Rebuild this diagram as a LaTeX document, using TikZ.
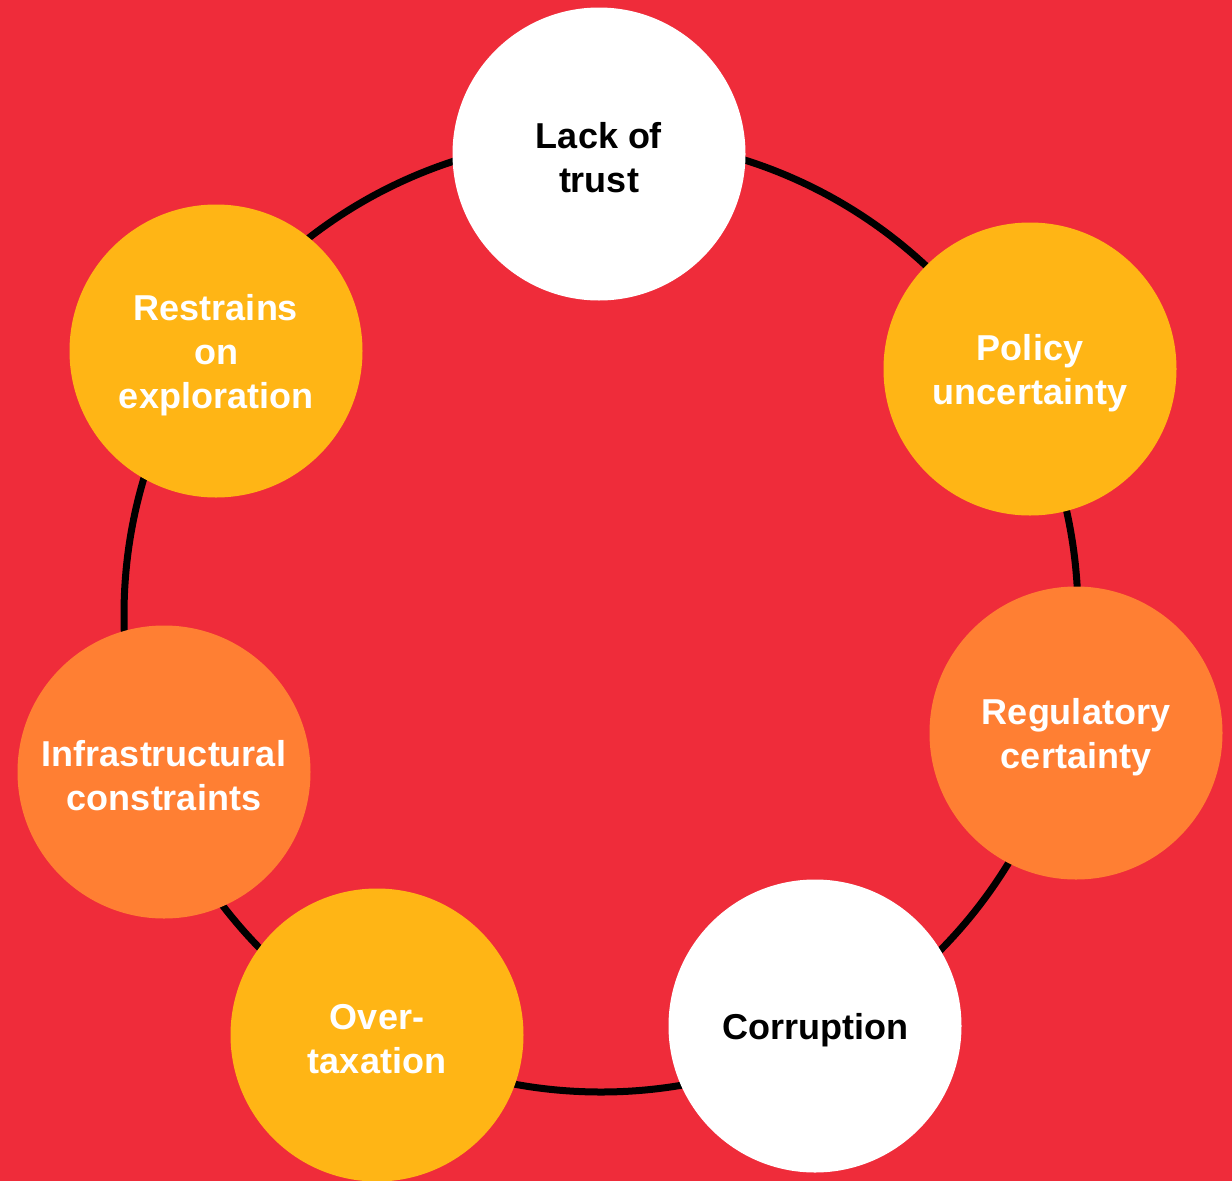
\documentclass[tikz,border=0pt]{standalone}
\usepackage{fontspec}
\setmainfont{Liberation Sans}
\definecolor{bgred}{RGB}{239,44,58}
\definecolor{sunyellow}{RGB}{255,181,21}
\definecolor{warmorange}{RGB}{255,127,51}
% a tall strut on the first line sets each text block a little lower
\newcommand{\topstrut}{\rule{0pt}{34pt}}
\begin{document}
\begin{tikzpicture}[x=1pt,y=-1pt,
  bubble/.style={circle,minimum size=293pt,inner sep=0pt,align=center,
    font=\fontsize{36}{44}\selectfont\bfseries},
  lightbubble/.style={bubble,fill=white,text=black},
  yellowbubble/.style={bubble,fill=sunyellow,text=white},
  orangebubble/.style={bubble,fill=warmorange,text=white},
  ring/.style={line width=7pt,draw=black}]
  \useasboundingbox (0,0) rectangle (1232,1181);
  \clip (0,0) rectangle (1232,1181);
  \fill[bgred] (0,0) rectangle (1232,1181);
  % the loop joining all the factors
  \coordinate (hub) at (601,615);
  \draw[ring] (hub) circle[radius=477pt];
  % factors around the loop
  \node[lightbubble]  (trust)  at (599,154)  {\topstrut Lack of\\trust};
  \node[yellowbubble] (policy) at (1030,369) {\topstrut Policy\\uncertainty};
  \node[orangebubble] (reg)    at (1076,733) {\topstrut Regulatory\\certainty};
  \node[lightbubble]  (corr)   at (815,1026) {\topstrut Corruption};
  \node[yellowbubble] (tax)    at (377,1035) {\topstrut Over-\\taxation};
  \node[orangebubble] (infra)  at (164,772)  {\topstrut Infrastructural\\constraints};
  \node[yellowbubble] (explor) at (216,351)  {\topstrut Restrains\\on\\exploration};
\end{tikzpicture}
\end{document}
